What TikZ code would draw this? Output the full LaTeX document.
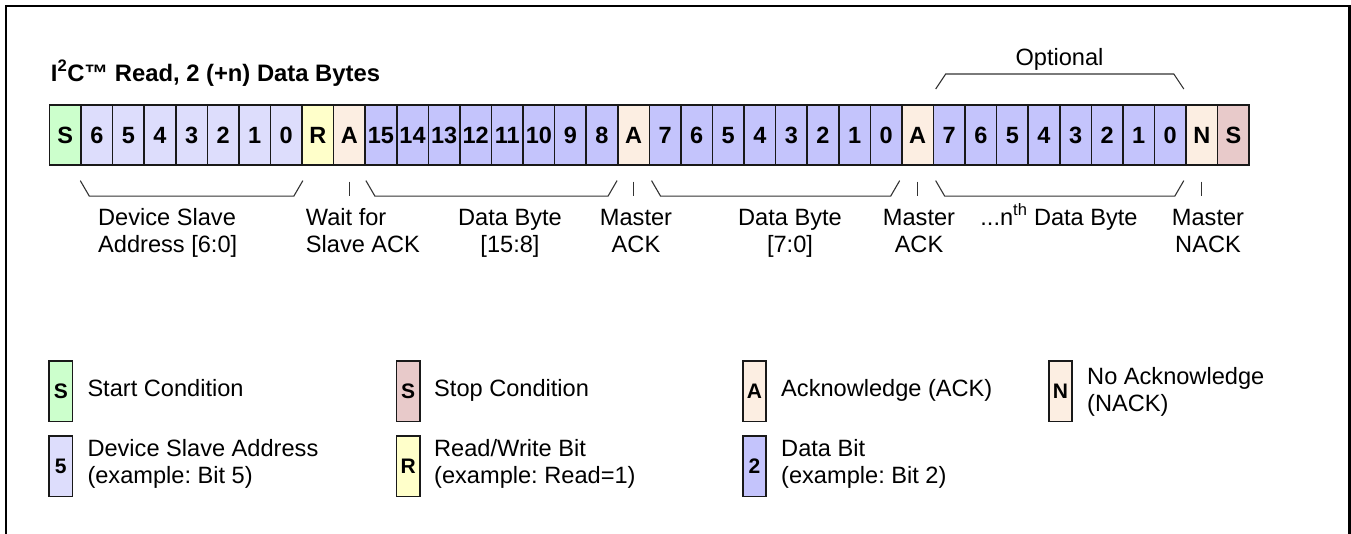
\documentclass[tikz,border=0pt]{standalone}
\usepackage{fontspec}
\setmainfont{Liberation Sans}
\usetikzlibrary{calc}
\definecolor{cgreen}{HTML}{CCFFCC}
\definecolor{caddrc}{HTML}{DDDDFC}
\definecolor{cyel}{HTML}{FFFFCA}
\definecolor{cackc}{HTML}{FCEEE2}
\definecolor{cdatac}{HTML}{C4C4FC}
\definecolor{cstopc}{HTML}{E8CACA}
\newcommand{\twoln}[3]{\begin{tabular}[t]{@{}#1@{}}#2\\\relax #3\end{tabular}}
\frenchspacing
\begin{document}
\begin{tikzpicture}[x=1pt,y=-1pt,
  bitcell/.style={draw=black!90, line width=1.6pt, minimum width=31.57pt, minimum height=60pt,
    inner sep=0pt, text height=16.8pt, text depth=0pt, anchor=north west,
    font=\fontsize{23.5}{27}\selectfont\bfseries},
  cstart/.style={fill=cgreen}, caddr/.style={fill=caddrc}, crw/.style={fill=cyel},
  cack/.style={fill=cackc}, cdata/.style={fill=cdatac}, cstop/.style={fill=cstopc},
  brk/.style={draw=black!80, line width=1.1pt},
  lbl/.style={inner sep=0pt, font=\fontsize{23.6}{27}\selectfont},
  lgbox/.style={draw=black!90, line width=1.6pt, minimum width=23.4pt, minimum height=60.7pt,
    inner sep=0pt, text height=15pt, text depth=0pt, anchor=north west,
    font=\fontsize{21}{24}\selectfont\bfseries},
]
\useasboundingbox (0,0) rectangle (1351,533);
\draw[line width=2.4pt, line join=miter] (6,560) -- (6,6.2) -- (1349.6,6.2) -- (1349.6,560);

\node[anchor=base west, inner sep=0pt, font=\fontsize{23.8}{27}\selectfont\bfseries] (title) at (50.7,81)
  {I\textsuperscript{2}C™ Read, 2 (+n) Data Bytes};

\foreach \lab/\sty [count=\i from 0] in {S/cstart,6/caddr,5/caddr,4/caddr,3/caddr,2/caddr,1/caddr,0/caddr,R/crw,A/cack,
  15/cdata,14/cdata,13/cdata,12/cdata,11/cdata,10/cdata,9/cdata,8/cdata,A/cack,
  7/cdata,6/cdata,5/cdata,4/cdata,3/cdata,2/cdata,1/cdata,0/cdata,A/cack,
  7/cdata,6/cdata,5/cdata,4/cdata,3/cdata,2/cdata,1/cdata,0/cdata,N/cack,S/cstop}
  {\node[bitcell,\sty] (c\i) at ({48.7+\i*31.57},104) {\lab};}

% brackets below
\draw[brk] ($(c1.south west)+(0,15)$) -- ++(9,15.5) -- ($(c7.south east)+(-9,30.5)$) -- ++(9,-15.5);
\draw[brk] ($(c10.south west)+(1.5,15)$) -- ++(9,15.5) -- ($(c17.south east)+(-10.5,30.5)$) -- ++(9,-15.5);
\draw[brk] ($(c19.south west)+(3,15)$) -- ++(9,15.5) -- ($(c26.south east)+(-12,30.5)$) -- ++(9,-15.5);
\draw[brk] ($(c28.south west)+(3,15)$) -- ++(9,15.5) -- ($(c35.south east)+(-12,30.5)$) -- ++(9,-15.5);
\foreach \k in {9,18,27,36} {\draw[brk] ($(c\k.south)+(0,16)$) -- ++(0,14.5);}
% optional bracket
\draw[brk] ($(c28.north west)+(3,-15)$) -- ++(10,-15) -- ($(c35.north east)+(-13,-30)$) -- ++(10,15);
\node[lbl, anchor=base] (opt) at (1059.5,65) {Optional};

% labels
\node[lbl, anchor=base west] (l1) at (98,225) {\twoln{l}{Device Slave}{Address [6:0]}};
\node[lbl, anchor=base west] (l2) at (305.7,225) {\twoln{l}{Wait for}{Slave ACK}};
\node[lbl, anchor=base] (l3) at (510,225) {\twoln{c}{Data Byte}{[15:8]}};
\node[lbl, anchor=base] (l4) at (636,225) {\twoln{c}{Master}{ACK}};
\node[lbl, anchor=base] (l5) at (790,225) {\twoln{c}{Data Byte}{[7:0]}};
\node[lbl, anchor=base] (l6) at (919,225) {\twoln{c}{Master}{ACK}};
\node[lbl, anchor=base] (l7) at (1059,225) {...n\textsuperscript{th} Data Byte};
\node[lbl, anchor=base] (l8) at (1208,225) {\twoln{c}{Master}{NACK}};

% legend
\node[lgbox, cstart] (g1) at (48.3,360) {S};
\node[lgbox, cstop]  (g2) at (395.7,360) {S};
\node[lgbox, cack]   (g3) at (742,360) {A};
\node[lgbox, cack]   (g4) at (1048,360) {N};
\node[lgbox, caddr]  (g5) at (48.3,435) {5};
\node[lgbox, crw]    (g6) at (395.7,435) {R};
\node[lgbox, cdata]  (g7) at (742,435) {2};
\node[lbl, anchor=base west] (t1) at (87.3,396.7) {Start Condition};
\node[lbl, anchor=base west] (t2) at (434,396.7) {Stop Condition};
\node[lbl, anchor=base west] (t3) at (781,396.7) {Acknowledge (ACK)};
\node[lbl, anchor=base west] (t4) at (1087,384.5) {\twoln{l}{No Acknowledge}{(NACK)}};
\node[lbl, anchor=base west] (t5) at (87.3,456.7) {\twoln{l}{Device Slave Address}{(example: Bit 5)}};
\node[lbl, anchor=base west] (t6) at (434,456.7) {\twoln{l}{Read/Write Bit}{(example: Read=1)}};
\node[lbl, anchor=base west] (t7) at (781,456.7) {\twoln{l}{Data Bit}{(example: Bit 2)}};
\end{tikzpicture}
\end{document}
